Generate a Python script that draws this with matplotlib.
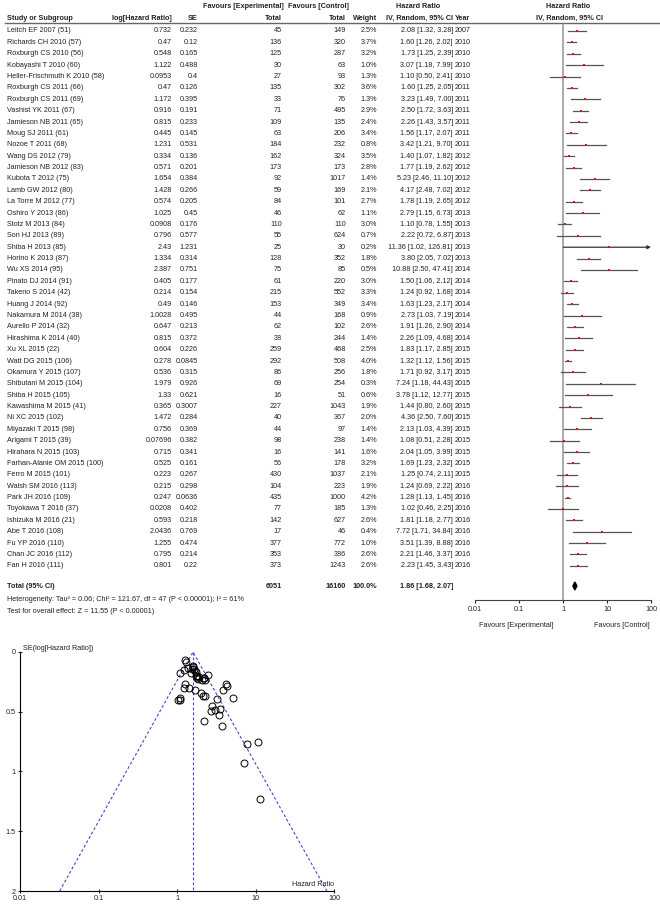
import matplotlib
matplotlib.use("Agg")
import matplotlib.pyplot as plt


studies = [
    "Leitch EF 2007 (51)", "Richards CH 2010 (57)", "Roxburgh CS 2010 (56)",
    "Kobayashi T 2010 (60)", "Heller-Frischmuth K 2010 (58)", "Roxburgh CS 2011 (66)",
    "Roxburgh CS 2011 (69)", "Vashist YK 2011 (67)", "Jamieson NB 2011 (65)",
    "Moug SJ 2011 (61)", "Nozoe T 2011 (68)", "Wang DS 2012 (79)",
    "Jamieson NB 2012 (83)", "Kubota T 2012 (75)", "Lamb GW 2012 (80)",
    "La Torre M 2012 (77)", "Oshiro Y 2013 (86)", "Stotz M 2013 (84)",
    "Son HJ 2013 (89)", "Shiba H 2013 (85)", "Horino K 2013 (87)",
    "Wu XS 2014 (95)", "Pinato DJ 2014 (91)", "Takeno S 2014 (42)",
    "Huang J 2014 (92)", "Nakamura M 2014 (38)", "Aurello P 2014 (32)",
    "Hirashima K 2014 (40)", "Xu XL 2015 (22)", "Watt DG 2015 (106)",
    "Okamura Y 2015 (107)", "Shibutani M 2015 (104)", "Shiba H 2015 (105)",
    "Kawashima M 2015 (41)", "Ni XC 2015 (102)", "Miyazaki T 2015 (98)",
    "Arigami T 2015 (39)", "Hirahara N 2015 (103)", "Farhan-Alanie OM 2015 (100)",
    "Ferro M 2015 (101)", "Walsh SM 2016 (113)", "Park JH 2016 (109)",
    "Toyokawa T 2016 (37)", "Ishizuka M 2016 (21)", "Abe T 2016 (108)",
    "Fu YP 2016 (110)", "Chan JC 2016 (112)", "Fan H 2016 (111)",
]
log_hr = [0.732, 0.47, 0.548, 1.122, 0.0953, 0.47, 1.172, 0.916, 0.815, 0.445,
          1.231, 0.334, 0.571, 1.654, 1.428, 0.574, 1.025, 0.0908, 0.796, 2.43,
          1.334, 2.387, 0.405, 0.214, 0.49, 1.0028, 0.647, 0.815, 0.604, 0.278,
          0.536, 1.979, 1.33, 0.365, 1.472, 0.756, 0.07696, 0.715, 0.525, 0.223,
          0.215, 0.247, 0.0208, 0.593, 2.0436, 1.255, 0.795, 0.801]
se = [0.232, 0.12, 0.165, 0.488, 0.4, 0.126, 0.395, 0.191, 0.233, 0.145,
      0.531, 0.136, 0.201, 0.384, 0.266, 0.205, 0.45, 0.176, 0.577, 1.231,
      0.314, 0.751, 0.177, 0.154, 0.146, 0.495, 0.213, 0.372, 0.226, 0.0845,
      0.315, 0.926, 0.621, 0.3007, 0.284, 0.369, 0.382, 0.341, 0.161, 0.267,
      0.298, 0.0636, 0.402, 0.218, 0.769, 0.474, 0.214, 0.22]
total_exp = [45, 136, 125, 30, 27, 135, 33, 71, 109, 63, 184, 162, 173, 92, 59, 84,
             46, 110, 55, 25, 128, 75, 61, 215, 153, 44, 62, 38, 259, 292, 86, 69,
             16, 227, 40, 44, 98, 16, 56, 430, 104, 435, 77, 142, 17, 377, 353, 373]
total_ctrl = [149, 320, 287, 63, 93, 302, 76, 495, 135, 206, 232, 324, 173, 1017,
              169, 101, 62, 110, 624, 30, 352, 85, 220, 552, 349, 168, 102, 244,
              468, 508, 256, 254, 51, 1043, 367, 97, 238, 141, 178, 1037, 223,
              1000, 185, 627, 46, 772, 386, 1243]
weight = [2.5, 3.7, 3.2, 1.0, 1.3, 3.6, 1.3, 2.9, 2.4, 3.4, 0.8, 3.5, 2.8, 1.4, 2.1,
          2.7, 1.1, 3.0, 0.7, 0.2, 1.8, 0.5, 3.0, 3.3, 3.4, 0.9, 2.6, 1.4, 2.5, 4.0,
          1.8, 0.3, 0.6, 1.9, 2.0, 1.4, 1.4, 1.6, 3.2, 2.1, 1.9, 4.2, 1.3, 2.6, 0.4,
          1.0, 2.6, 2.6]
hr = [2.08, 1.60, 1.73, 3.07, 1.10, 1.60, 3.23, 2.50, 2.26, 1.56, 3.42, 1.40, 1.77,
      5.23, 4.17, 1.78, 2.79, 1.10, 2.22, 11.36, 3.80, 10.88, 1.50, 1.24, 1.63,
      2.73, 1.91, 2.26, 1.83, 1.32, 1.71, 7.24, 3.78, 1.44, 4.36, 2.13, 1.08,
      2.04, 1.69, 1.25, 1.24, 1.28, 1.02, 1.81, 7.72, 3.51, 2.21, 2.23]
ci_low = [1.32, 1.26, 1.25, 1.18, 0.50, 1.25, 1.49, 1.72, 1.43, 1.17, 1.21, 1.07,
          1.19, 2.46, 2.48, 1.19, 1.15, 0.78, 0.72, 1.02, 2.05, 2.50, 1.06, 0.92,
          1.23, 1.03, 1.26, 1.09, 1.17, 1.12, 0.92, 1.18, 1.12, 0.80, 2.50, 1.03,
          0.51, 1.05, 1.23, 0.74, 0.69, 1.13, 0.46, 1.18, 1.71, 1.39, 1.46, 1.45]
ci_high = [3.28, 2.02, 2.39, 7.99, 2.41, 2.05, 7.00, 3.63, 3.57, 2.07, 9.70, 1.82,
           2.62, 11.10, 7.02, 2.65, 6.73, 1.55, 6.87, 126.81, 7.02, 47.41, 2.12,
           1.68, 2.17, 7.19, 2.90, 4.68, 2.85, 1.56, 3.17, 44.43, 12.77, 2.60,
           7.60, 4.39, 2.28, 3.99, 2.32, 2.11, 2.22, 1.45, 2.25, 2.77, 34.84,
           8.88, 3.37, 3.43]
years = [2007, 2010, 2010, 2010, 2010, 2011, 2011, 2011, 2011, 2011, 2011, 2012,
         2012, 2012, 2012, 2012, 2013, 2013, 2013, 2013, 2013, 2014, 2014, 2014,
         2014, 2014, 2014, 2014, 2015, 2015, 2015, 2015, 2015, 2015, 2015, 2015,
         2015, 2015, 2015, 2015, 2016, 2016, 2016, 2016, 2016, 2016, 2016, 2016]

total_exp_sum = 6051
total_ctrl_sum = 16160
total_hr, total_lo, total_hi = 1.86, 1.68, 2.07
heterogeneity = "Heterogeneity: Tau² = 0.06; Chi² = 121.67, df = 47 (P < 0.00001); I² = 61%"
overall_effect = "Test for overall effect: Z = 11.55 (P < 0.00001)"

# funnel plot guide lines
funnel_center = 1.6
funnel_base = [0.032, 81]
funnel_se_max = 2

W, H = 660, 905
TXT = "#222222"
FS = 5.2

plt.rcParams['font.family'] = ['Liberation Sans', 'DejaVu Sans']

fig = plt.figure(figsize=(W / 100, H / 100), dpi=100)


def px_axes(x0, y0, x1, y1):
    return fig.add_axes([x0 / W, 1 - y1 / H, (x1 - x0) / W, (y1 - y0) / H])


# table text, pixel coordinates
tab = fig.add_axes([0, 0, 1, 1])
tab.set_xlim(0, W)
tab.set_ylim(H, 0)
tab.axis("off")
tab.patch.set_alpha(0)


def t(x, y, s, ha="left", bold=False):
    tab.text(x, y, s, ha=ha, va="center", fontsize=FS, color=TXT,
             fontweight="bold" if bold else "normal")


t(243, 6, "Favours [Experimental]", "center", True)
t(318, 6, "Favours [Control]", "center", True)
t(418, 6, "Hazard Ratio", "center", True)
t(568, 6, "Hazard Ratio", "center", True)
t(7, 18, "Study or Subgroup", bold=True)
t(172, 18, "log[Hazard Ratio]", "right", True)
t(198, 18, "SE", "right", True)
t(282, 18, "Total", "right", True)
t(346, 18, "Total", "right", True)
t(377, 18, "Weight", "right", True)
t(453, 18, "IV, Random, 95% CI", "right", True)
t(455, 18, "Year", bold=True)
t(569, 18, "IV, Random, 95% CI", "center", True)
tab.plot([5, 660], [23.5, 23.5], color="#666666", lw=1)

row0, step = 31, 11.38
row_y = [row0 + i * step for i in range(len(studies))]
for i, y in enumerate(row_y):
    t(7, y, studies[i])
    t(172, y, f"{log_hr[i]:g}", "right")
    t(198, y, f"{se[i]:g}", "right")
    t(282, y, str(total_exp[i]), "right")
    t(346, y, str(total_ctrl[i]), "right")
    t(377, y, f"{weight[i]:.1f}%", "right")
    t(453, y, f"{hr[i]:.2f} [{ci_low[i]:.2f}, {ci_high[i]:.2f}]", "right")
    t(455, y, str(years[i]))

y_tot = 586
t(7, y_tot, "Total (95% CI)", bold=True)
t(282, y_tot, str(total_exp_sum), "right", True)
t(346, y_tot, str(total_ctrl_sum), "right", True)
t(377, y_tot, "100.0%", "right", True)
t(453, y_tot, f"{total_hr:.2f} [{total_lo:.2f}, {total_hi:.2f}]", "right", True)
t(7, 599, heterogeneity)
t(7, 611, overall_effect)

# forest plot
fa = px_axes(475, 23.5, 651, 600)
fa.set_xscale("log")
fa.set_xlim(0.01, 100)
fa.set_ylim(600, 23.5)
fa.patch.set_alpha(0)
for s in ["top", "left", "right"]:
    fa.spines[s].set_visible(False)
fa.spines["bottom"].set_color("#444444")
fa.set_yticks([])
fa.set_xticks([0.01, 0.1, 1, 10, 100])
fa.set_xticklabels(["0.01", "0.1", "1", "10", "100"])
fa.xaxis.set_minor_locator(plt.NullLocator())
fa.tick_params(axis="x", labelsize=FS, colors=TXT, length=2.5, width=0.8, pad=2)
fa.axvline(1, color="#aaaaaa", lw=1.4, zorder=1)
for i, y in enumerate(row_y):
    if ci_high[i] > 100:
        fa.annotate("", xy=(100, y), xytext=(ci_low[i], y),
                    arrowprops=dict(arrowstyle="-|>", color="#333333", lw=0.9,
                                    mutation_scale=5, shrinkA=0, shrinkB=0))
    else:
        fa.plot([ci_low[i], ci_high[i]], [y, y], color="#555555", lw=0.9, zorder=2)
    fa.plot(hr[i], y, marker="s", color="#dd1111", ms=1.8, mew=0, zorder=3)
fa.fill([total_lo, total_hr, total_hi, total_hr],
        [y_tot, y_tot - 4, y_tot, y_tot + 4], color="black", zorder=3)
fa.text(0.02, -0.045, "Favours [Experimental]", transform=fa.transAxes,
        fontsize=FS, color=TXT, ha="left", va="center")
fa.text(0.99, -0.045, "Favours [Control]", transform=fa.transAxes,
        fontsize=FS, color=TXT, ha="right", va="center")

# funnel plot
fu = px_axes(20, 652, 334, 891)
fu.set_xscale("log")
fu.set_xlim(0.01, 100)
fu.set_ylim(funnel_se_max, 0)
fu.patch.set_alpha(0)
for s in ["top", "right"]:
    fu.spines[s].set_visible(False)
fu.set_xticks([0.01, 0.1, 1, 10, 100])
fu.set_xticklabels(["0.01", "0.1", "1", "10", "100"])
fu.xaxis.set_minor_locator(plt.NullLocator())
fu.set_yticks([0, 0.5, 1, 1.5, 2])
fu.set_yticklabels(["0", "0.5", "1", "1.5", "2"])
fu.tick_params(labelsize=FS, colors=TXT, length=3, width=0.8, pad=1.5, direction="inout")
fu.plot([funnel_base[0], funnel_center, funnel_base[1]],
        [funnel_se_max, 0, funnel_se_max], color="#4444cc", lw=0.8, ls=(0, (2.5, 2)))
fu.plot([funnel_center, funnel_center], [0, funnel_se_max], color="#4444cc",
        lw=0.8, ls=(0, (2.5, 2)))
fu.plot(hr, se, "o", mfc="none", mec="black", ms=5, mew=0.7, clip_on=False)
fu.text(0.01, 1.0, "SE(log[Hazard Ratio])", transform=fu.transAxes,
        fontsize=FS, color=TXT, ha="left", va="bottom")
fu.text(1.0, 0.012, "Hazard Ratio", transform=fu.transAxes,
        fontsize=FS, color=TXT, ha="right", va="bottom")

fig.savefig("out.png", dpi=100)
